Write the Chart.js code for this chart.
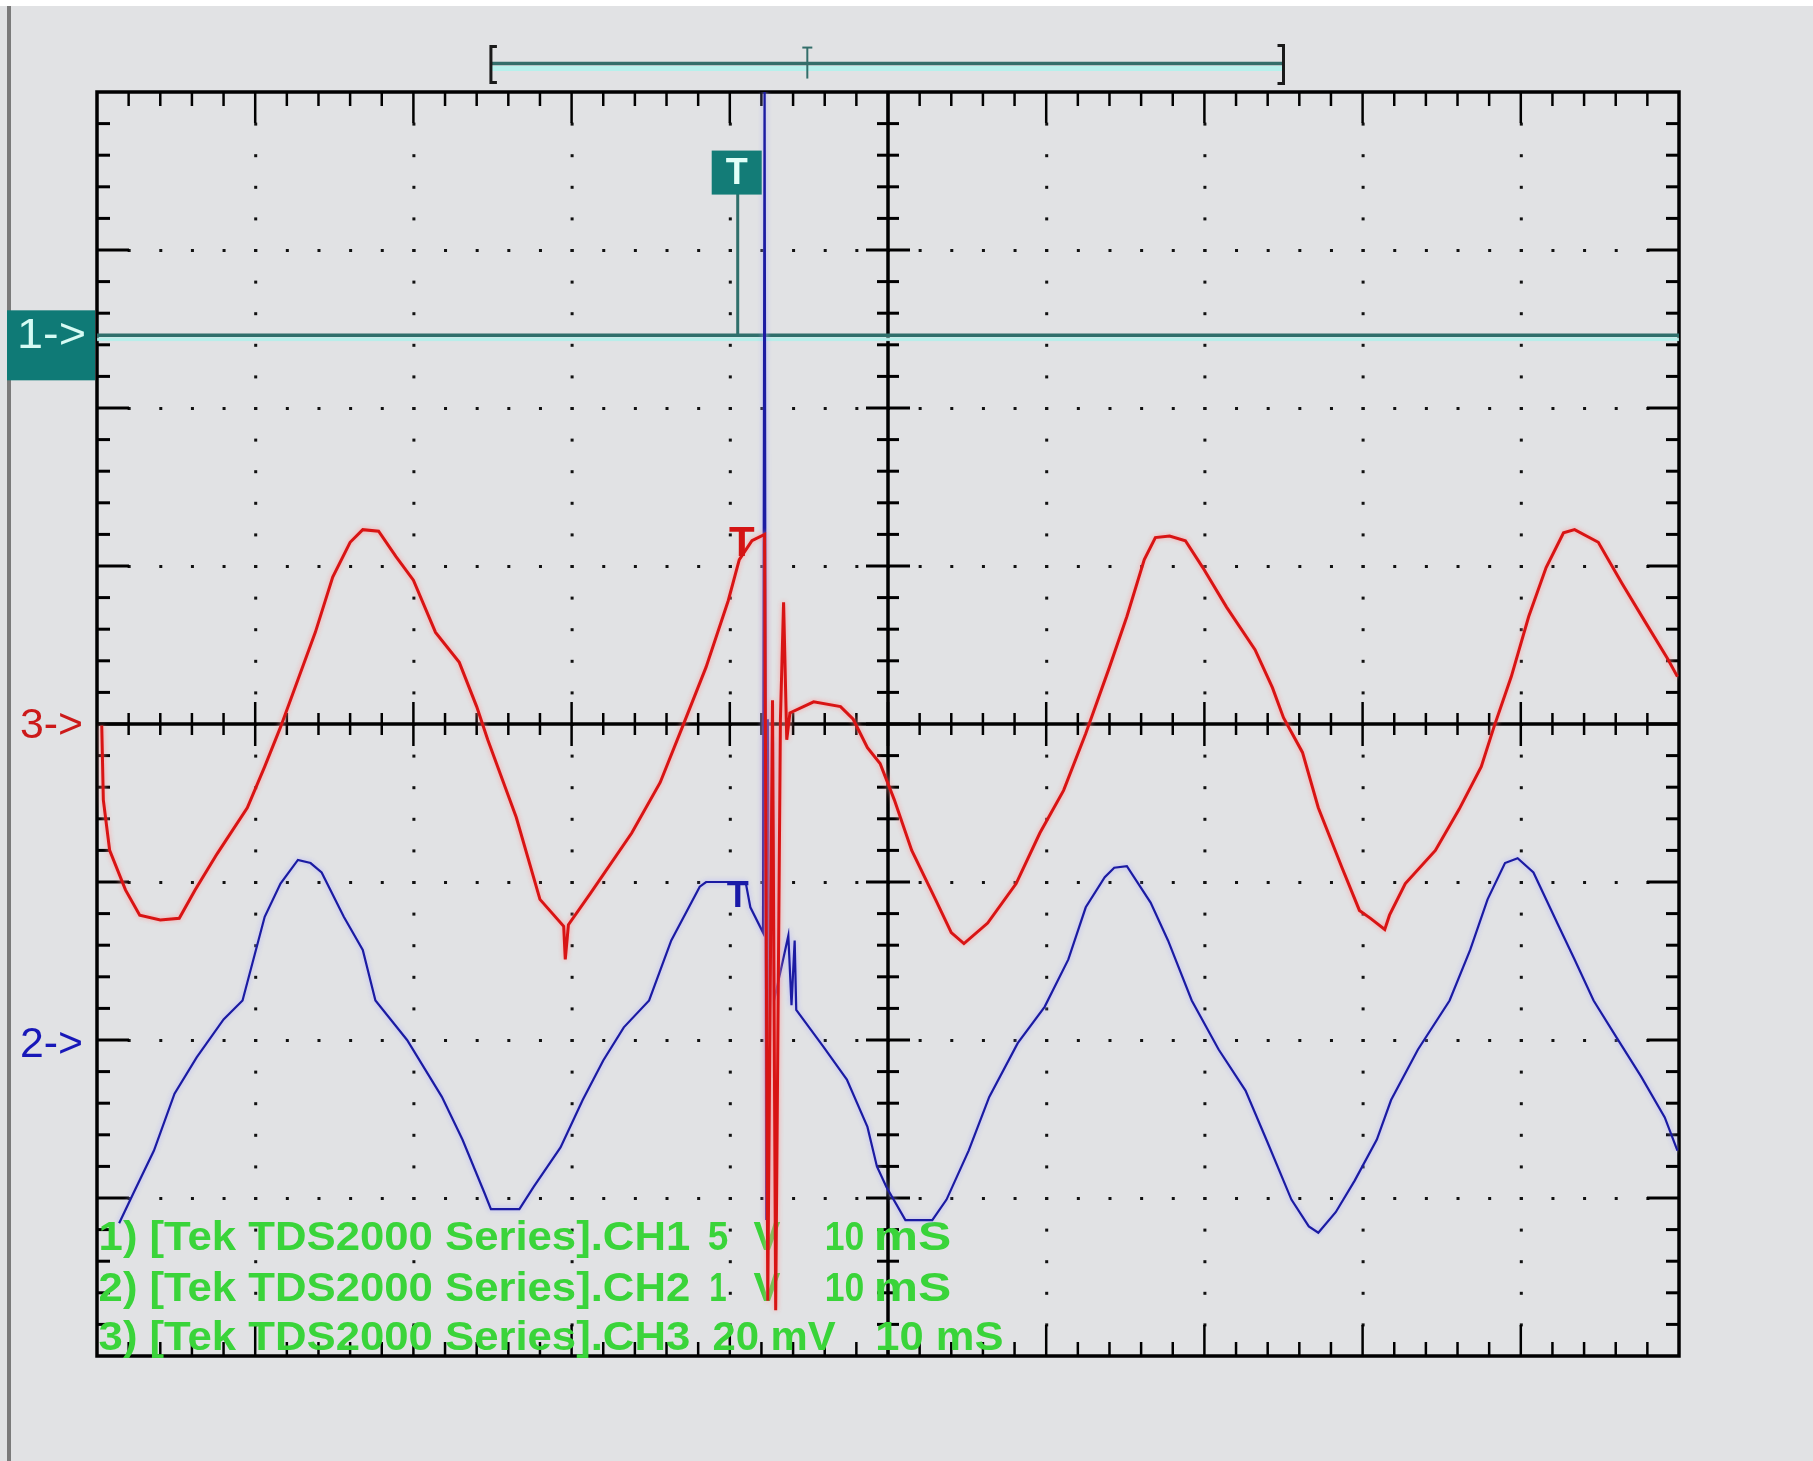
<!DOCTYPE html>
<html>
<head>
<meta charset="utf-8">
<script src="https://cdn.jsdelivr.net/npm/chart.js@4.4.1/dist/chart.umd.min.js"></script>
<style>
html, body { margin: 0; padding: 0; background: #e1e2e4; }
canvas { display: block; }
</style>
</head>
<body>
<canvas id="scope" width="1813" height="1461"></canvas>
<script>
'use strict';
// everything is in graticule divisions: x 0..10, y -4..4 (centre = 0)
const X_DIVS = 10;
const Y_DIVS = 8;
const TRIG_X = 4.05;
const TRIG_BOX_LEVEL = 3.49;

// channel reference levels (where the "n->" markers sit)
const ch1Level = 2.46;
const ch2Level = -2.03;
const ch3Level = 0;

// CH1: flat trigger channel
const ch1Trace = [[0, 2.46], [10, 2.46]];

// CH3 (red) [time div, value div]
const ch3Trace = [
	[0.03, -0.01], [0.04, -0.48], [0.08, -0.80], [0.18, -1.05], [0.27, -1.21], [0.40, -1.24],
	[0.52, -1.23], [0.62, -1.05], [0.76, -0.82], [0.95, -0.53], [1.06, -0.27], [1.16, -0.02],
	[1.27, 0.28], [1.38, 0.58], [1.49, 0.93], [1.60, 1.15], [1.68, 1.23], [1.78, 1.22],
	[1.89, 1.06], [2.00, 0.91], [2.14, 0.58], [2.29, 0.39], [2.40, 0.11], [2.47, -0.10],
	[2.65, -0.59], [2.80, -1.11], [2.95, -1.28], [2.96, -1.49], [2.98, -1.27], [3.12, -1.07],
	[3.38, -0.69], [3.56, -0.37], [3.70, -0.02], [3.85, 0.36], [3.99, 0.78], [4.06, 1.04],
	[4.14, 1.16], [4.22, 1.20], [4.24, -3.65], [4.27, 0.15], [4.29, -3.71], [4.32, 0.03],
	[4.34, 0.77], [4.36, -0.10], [4.38, 0.07], [4.53, 0.14], [4.70, 0.11], [4.78, 0.03],
	[4.87, -0.15], [4.95, -0.25], [5.04, -0.48], [5.15, -0.80], [5.30, -1.11], [5.40, -1.32],
	[5.48, -1.39], [5.63, -1.26], [5.81, -1.01], [5.96, -0.69], [6.11, -0.42], [6.25, -0.06],
	[6.40, 0.36], [6.51, 0.68], [6.62, 1.04], [6.69, 1.18], [6.78, 1.19], [6.88, 1.16],
	[6.99, 0.99], [7.14, 0.74], [7.32, 0.47], [7.43, 0.23], [7.50, 0.04], [7.62, -0.18],
	[7.72, -0.53], [7.87, -0.91], [7.98, -1.18], [8.05, -1.23], [8.14, -1.30], [8.17, -1.21],
	[8.27, -1.01], [8.46, -0.80], [8.61, -0.54], [8.75, -0.27], [8.83, -0.02], [8.94, 0.30],
	[9.05, 0.68], [9.16, 0.99], [9.27, 1.21], [9.34, 1.23], [9.49, 1.15], [9.64, 0.89],
	[9.79, 0.64], [9.93, 0.41], [9.99, 0.30]
];

// CH2 (blue)
const ch2Trace = [
	[0.14, -3.16], [0.23, -2.97], [0.36, -2.70], [0.49, -2.34], [0.63, -2.11], [0.80, -1.87],
	[0.92, -1.75], [1.06, -1.22], [1.16, -1.01], [1.27, -0.86], [1.35, -0.88], [1.42, -0.94],
	[1.56, -1.22], [1.68, -1.43], [1.76, -1.75], [1.96, -2.00], [2.18, -2.36], [2.31, -2.63],
	[2.45, -2.97], [2.49, -3.07], [2.67, -3.07], [2.76, -2.93], [2.93, -2.68], [3.07, -2.38],
	[3.20, -2.13], [3.33, -1.92], [3.49, -1.75], [3.63, -1.37], [3.81, -1.03], [3.85, -1.00],
	[4.10, -1.00], [4.13, -1.16], [4.21, -1.32], [4.22, 4.2], [4.23, -3.14], [4.24, 0.03],
	[4.25, -2.00], [4.27, -0.10], [4.28, -1.75], [4.37, -1.34], [4.39, -1.78], [4.41, -1.37],
	[4.42, -1.81], [4.59, -2.04], [4.74, -2.25], [4.87, -2.55], [4.93, -2.80], [4.99, -2.93],
	[5.11, -3.14], [5.28, -3.14], [5.37, -3.01], [5.51, -2.70], [5.64, -2.36], [5.82, -2.02],
	[5.99, -1.79], [6.14, -1.49], [6.25, -1.16], [6.37, -0.97], [6.43, -0.91], [6.51, -0.90],
	[6.66, -1.13], [6.77, -1.37], [6.92, -1.75], [7.09, -2.06], [7.26, -2.32], [7.40, -2.65],
	[7.55, -3.01], [7.66, -3.18], [7.72, -3.22], [7.83, -3.09], [7.95, -2.89], [8.09, -2.63],
	[8.18, -2.38], [8.35, -2.06], [8.55, -1.75], [8.68, -1.43], [8.79, -1.11], [8.90, -0.88],
	[8.98, -0.85], [9.08, -0.94], [9.24, -1.28], [9.34, -1.49], [9.46, -1.75], [9.59, -1.96],
	[9.76, -2.23], [9.91, -2.49], [9.99, -2.70]
];

// channel info text, each piece with its start/end in x divisions
const infoLevels = [-3.33, -3.65, -3.96];
const infoLines = [
	[['1) [Tek TDS2000 Series].CH1', 0.01, 3.75], ['5', 3.86, 3.99], ['V', 4.15, 4.32], ['10', 4.60, 4.85], ['mS', 4.91, 5.40]],
	[['2) [Tek TDS2000 Series].CH2', 0.01, 3.75], ['1', 3.87, 3.98], ['V', 4.15, 4.32], ['10', 4.60, 4.85], ['mS', 4.91, 5.40]],
	[['3) [Tek TDS2000 Series].CH3', 0.01, 3.75], ['20 mV', 3.89, 4.67], ['10 mS', 4.92, 5.73]]
];

const NARROW = '"Liberation Sans", Arial, sans-serif';
const glow = ['rgba(255,150,150,0.9)', 'rgba(170,170,255,0.9)', null];

function fitText(ctx, text, x0, x1, y, font) {
	ctx.font = font;
	const w = ctx.measureText(text).width;
	ctx.save();
	ctx.translate(x0, y);
	ctx.scale((x1 - x0) / w, 1);
	ctx.fillText(text, 0, 0);
	ctx.restore();
}

function line(ctx, x1, y1, x2, y2) {
	ctx.beginPath();
	ctx.moveTo(x1, y1);
	ctx.lineTo(x2, y2);
	ctx.stroke();
}

const scopeGraticule = {
	id: 'scopeGraticule',
	beforeDraw(chart) {
		const { ctx, width, height } = chart;
		ctx.save();
		ctx.fillStyle = '#e1e2e4';
		ctx.fillRect(0, 0, width, height);
		ctx.fillStyle = '#ffffff';
		ctx.fillRect(0, 0, width, 6);
		ctx.fillStyle = '#7a7a7a';
		ctx.fillRect(7, 6, 4, height - 6);
		ctx.restore();
	},
	beforeDatasetsDraw(chart) {
		const { ctx, chartArea: a, scales: { x, y } } = chart;
		const cx = x.getPixelForValue(X_DIVS / 2);
		const cy = y.getPixelForValue(0);
		ctx.save();
		ctx.fillStyle = '#111';
		// dotted division lines, a dot every 1/5 division
		for (let i = 1; i < X_DIVS; i++) {
			if (i === X_DIVS / 2) continue;
			const px = x.getPixelForValue(i);
			for (let k = 1; k < Y_DIVS * 5; k++) {
				ctx.fillRect(px - 1, y.getPixelForValue(-Y_DIVS / 2 + k * 0.2) - 1, 3, 3);
			}
		}
		for (let j = 1; j < Y_DIVS; j++) {
			if (j === Y_DIVS / 2) continue;
			const py = y.getPixelForValue(-Y_DIVS / 2 + j);
			for (let k = 1; k < X_DIVS * 5; k++) {
				ctx.fillRect(x.getPixelForValue(k * 0.2) - 1, py - 1, 3, 3);
			}
		}
		// tick marks on frame and centre cross
		ctx.strokeStyle = '#000';
		ctx.lineWidth = 2.5;
		for (let k = 1; k < X_DIVS * 5; k++) {
			const px = x.getPixelForValue(k * 0.2);
			const major = k % 5 === 0;
			const len = major ? 31 : 14;
			line(ctx, px, a.top, px, a.top + len);
			line(ctx, px, a.bottom, px, a.bottom - len);
			const c = major ? 22 : 11;
			line(ctx, px, cy - c, px, cy + c);
		}
		ctx.lineWidth = 3;
		for (let k = 1; k < Y_DIVS * 5; k++) {
			const py = y.getPixelForValue(-Y_DIVS / 2 + k * 0.2);
			const major = k % 5 === 0;
			const len = major ? 32 : 13;
			line(ctx, a.left, py, a.left + len, py);
			line(ctx, a.right, py, a.right - len, py);
			const c = major ? 22 : 11;
			line(ctx, cx - c, py, cx + c, py);
		}
		ctx.lineWidth = 3.5;
		line(ctx, a.left, cy, a.right, cy);
		line(ctx, cx, a.top, cx, a.bottom);
		ctx.strokeRect(a.left, a.top, a.width, a.height);

		// channel info text
		ctx.fillStyle = '#3ad43a';
		ctx.textBaseline = 'alphabetic';
		infoLines.forEach((pieces, n) => {
			const py = y.getPixelForValue(infoLevels[n]);
			pieces.forEach(([text, s, e]) => {
				fitText(ctx, text, x.getPixelForValue(s), x.getPixelForValue(e), py, 'bold 41px ' + NARROW);
			});
		});
		ctx.restore();
	},
	beforeDatasetDraw(chart, args) {
		const { ctx } = chart;
		ctx.save();
		if (args.index === 2) {
			ctx.shadowColor = '#b4f0ea';
			ctx.shadowOffsetY = 4;
			ctx.shadowBlur = 1;
		} else {
			ctx.shadowColor = glow[args.index];
			ctx.shadowBlur = 5;
		}
	},
	afterDatasetDraw(chart) {
		chart.ctx.restore();
	},
	afterDatasetsDraw(chart) {
		const { ctx, chartArea: a, scales: { x, y } } = chart;
		const tx = x.getPixelForValue(TRIG_X);
		ctx.save();

		// trigger box on CH1 with its stem
		const by = y.getPixelForValue(TRIG_BOX_LEVEL);
		ctx.strokeStyle = '#2f6f6b';
		ctx.lineWidth = 3;
		line(ctx, tx, by + 20, tx, y.getPixelForValue(ch1Level));
		ctx.fillStyle = '#137c77';
		ctx.fillRect(tx - 26, by - 22, 50, 44);
		ctx.fillStyle = '#e0fff8';
		ctx.textAlign = 'center';
		ctx.textBaseline = 'middle';
		ctx.font = 'bold 36px ' + NARROW;
		ctx.fillText('T', tx - 1, by + 1);

		// trigger marks drawn into CH3 / CH2
		ctx.font = 'bold 42px ' + NARROW;
		ctx.textBaseline = 'top';
		ctx.fillStyle = '#d41414';
		ctx.fillText('T', tx + 4, y.getPixelForValue(1.27));
		ctx.font = 'bold 36px ' + NARROW;
		ctx.fillStyle = '#1a1aa8';
		ctx.fillText('T', tx, y.getPixelForValue(-0.98));

		// channel markers at the left
		ctx.fillStyle = '#0f7a76';
		const p1 = y.getPixelForValue(ch1Level);
		ctx.fillRect(7, p1 - 25, a.left - 9, 70);
		ctx.textAlign = 'left';
		ctx.textBaseline = 'middle';
		ctx.fillStyle = '#d6fbf4';
		fitText(ctx, '1->', 17, 86, p1 + 1, '42px ' + NARROW);
		ctx.fillStyle = '#cc1a1a';
		fitText(ctx, '3->', 20, 83, y.getPixelForValue(ch3Level) + 2, '42px ' + NARROW);
		ctx.fillStyle = '#1818b8';
		fitText(ctx, '2->', 20, 83, y.getPixelForValue(ch2Level) + 1, '42px ' + NARROW);

		// record view bar above the graticule
		const left = x.getPixelForValue(2.49);
		const right = x.getPixelForValue(7.50);
		const yb = y.getPixelForValue(4.18);
		ctx.strokeStyle = '#b6f1ec';
		ctx.lineWidth = 5;
		line(ctx, left, yb + 5, right, yb + 5);
		ctx.strokeStyle = '#336e6a';
		ctx.lineWidth = 3.5;
		line(ctx, left, yb, right, yb);
		ctx.strokeStyle = '#1a1a1a';
		ctx.lineWidth = 3;
		ctx.beginPath();
		ctx.moveTo(left + 6, yb - 17);
		ctx.lineTo(left, yb - 17);
		ctx.lineTo(left, yb + 19);
		ctx.lineTo(left + 6, yb + 19);
		ctx.moveTo(right - 6, yb - 18);
		ctx.lineTo(right, yb - 18);
		ctx.lineTo(right, yb + 20);
		ctx.lineTo(right - 6, yb + 20);
		ctx.stroke();
		const tt = x.getPixelForValue(4.49);
		ctx.strokeStyle = '#336e6a';
		ctx.lineWidth = 2;
		line(ctx, tt, yb - 16, tt, yb + 15);
		line(ctx, tt - 5, yb - 16, tt + 5, yb - 16);
		ctx.restore();
	}
};

const toPoints = (trace) => trace.map(([t, v]) => ({ x: t, y: v }));

new Chart(document.getElementById('scope'), {
	type: 'line',
	data: {
		datasets: [
			{ label: 'CH3', data: toPoints(ch3Trace), borderColor: '#d81414', borderWidth: 3 },
			{ label: 'CH2', data: toPoints(ch2Trace), borderColor: '#1b1ba2', borderWidth: 2.2 },
			{ label: 'CH1', data: toPoints(ch1Trace), borderColor: '#2f6f6b', borderWidth: 3.5 }
		]
	},
	options: {
		responsive: false,
		animation: false,
		devicePixelRatio: 1,
		layout: { padding: { left: 97, top: 92, right: 134, bottom: 105 } },
		elements: { point: { radius: 0 }, line: { tension: 0 } },
		scales: {
			x: { type: 'linear', min: 0, max: X_DIVS, display: false },
			y: { type: 'linear', min: -Y_DIVS / 2, max: Y_DIVS / 2, display: false }
		},
		plugins: { legend: { display: false }, tooltip: { enabled: false } }
	},
	plugins: [scopeGraticule]
});
</script>
</body>
</html>
